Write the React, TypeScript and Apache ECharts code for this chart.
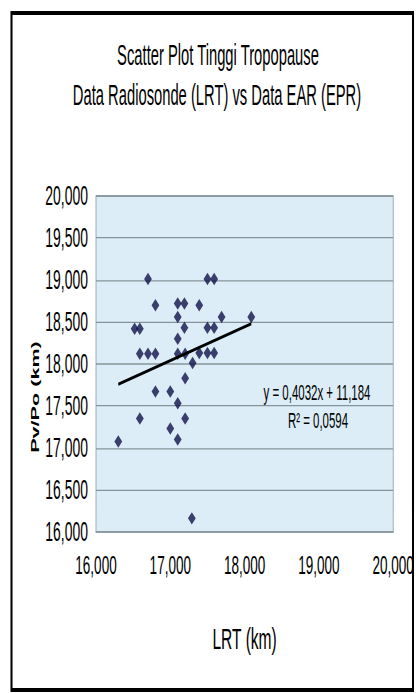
import React, { useEffect, useRef } from 'react';
import * as echarts from 'echarts';

// the reference is an Excel chart drawn in a narrow font and stretched vertically
const SX = 0.82;
const SY = 1.6;
const W = 418 / SX;
const H = 693 / SY;
const px = (x: number) => x / SX;
const py = (y: number) => y / SY;

const titleLines = ['Scatter Plot Tinggi Tropopause', 'Data Radiosonde (LRT) vs Data EAR (EPR)'];
const xAxisName = 'LRT (km)';
const yAxisName = 'Pv/Po (km)';
const equationText = 'y = 0,4032x + 11,184';
const r2Text = 'R² = 0,0594';

const xRange = [16, 20];
const xStep = 1;
const yRange = [16, 20];
const yStep = 0.5;

// LRT (km)
const lrtValues = [
  16.70, 17.50, 17.59,
  16.80, 17.10, 17.19, 17.39,
  16.52, 16.59, 17.10, 17.19, 17.50, 17.59, 17.69, 18.09,
  17.10,
  16.59, 16.70, 16.80, 17.10, 17.20, 17.39, 17.50, 17.59,
  17.30, 17.20, 16.80, 17.00, 17.10, 16.59, 17.20, 17.00, 17.10, 16.30, 17.29,
];
// Pv/Po (km)
const eprValues = [
  19.01, 19.01, 19.01,
  18.70, 18.72, 18.72, 18.70,
  18.42, 18.42, 18.56, 18.43, 18.43, 18.43, 18.56, 18.56,
  18.30,
  18.12, 18.12, 18.12, 18.12, 18.12, 18.13, 18.13, 18.13,
  18.01, 17.83, 17.67, 17.67, 17.53, 17.35, 17.35, 17.23, 17.10, 17.075, 16.16,
];

const trendX = [16.30, 18.09];
const trendY = [17.757, 18.478];

const FONT = '"Liberation Sans", Arial, sans-serif';
const fmt = (v: number) => v.toFixed(3).replace('.', ',');

export default function App() {
  const ref = useRef<HTMLDivElement>(null);
  useEffect(() => {
    document.body.style.margin = '0';
    const chart = echarts.init(ref.current!, null, { renderer: 'svg' });
    const points = lrtValues.map((x, i) => [x, eprValues[i]]);
    const trend = trendX.map((x, i) => [x, trendY[i]]);
    chart.setOption({
      animation: false,
      backgroundColor: '#ffffff',
      grid: {
        left: px(96),
        right: px(418 - 393),
        top: py(196),
        bottom: H - py(532),
        show: true,
        backgroundColor: '#dcedf7',
        borderColor: '#8f9ca6',
        borderWidth: 1,
      },
      xAxis: {
        type: 'value',
        min: xRange[0],
        max: xRange[1],
        interval: xStep,
        axisLine: { show: true, onZero: false, lineStyle: { color: '#8f9ca6' } },
        axisTick: { show: false },
        splitLine: { show: false },
        axisLabel: { margin: 12, formatter: fmt, fontFamily: FONT, fontSize: 16.5, color: '#000' },
        name: xAxisName,
        nameLocation: 'middle',
        nameGap: 57,
        nameTextStyle: { fontFamily: FONT, fontSize: 19, color: '#000' },
      },
      yAxis: {
        type: 'value',
        min: yRange[0],
        max: yRange[1],
        interval: yStep,
        axisLine: { show: false },
        axisTick: { show: false },
        splitLine: { show: true, lineStyle: { color: '#87939b', width: 0.8 } },
        axisLabel: { margin: px(8), formatter: fmt, fontFamily: FONT, fontSize: 17, color: '#000' },
      },
      series: [
        {
          type: 'scatter',
          data: points,
          symbol: 'diamond',
          symbolSize: [9.5, 7.8],
          itemStyle: { color: '#11114a' },
          z: 3,
        },
        {
          type: 'line',
          data: trend,
          symbol: 'none',
          lineStyle: { color: '#000', width: 2 },
          z: 4,
        },
      ],
      graphic: [
        {
          type: 'rect',
          shape: { x: px(11.5), y: py(13), width: px(401.5), height: py(690 - 13) },
          style: { fill: 'none', stroke: '#000', lineWidth: 2.5 },
          silent: true,
        },
        {
          type: 'text', x: px(218), y: py(55),
          style: { text: titleLines[0], font: `18px ${FONT}`, fill: '#000', textAlign: 'center', textVerticalAlign: 'middle' },
        },
        {
          type: 'text', x: px(217), y: py(95),
          style: { text: titleLines[1], font: `18px ${FONT}`, fill: '#000', textAlign: 'center', textVerticalAlign: 'middle' },
        },
        {
          type: 'text', x: px(35), y: py(397), rotation: Math.PI / 2,
          style: { text: yAxisName, font: `bold 13.5px ${FONT}`, fill: '#000', textAlign: 'center', textVerticalAlign: 'middle' },
        },
        {
          type: 'text', x: px(317), y: py(392), z: 10,
          style: { text: equationText, font: `14px ${FONT}`, fill: '#000', textAlign: 'center', textVerticalAlign: 'middle' },
        },
        {
          type: 'text', x: px(318), y: py(420), z: 10,
          style: { text: r2Text, font: `14px ${FONT}`, fill: '#000', textAlign: 'center', textVerticalAlign: 'middle' },
        },
      ],
    });
    return () => chart.dispose();
  }, []);
  return (
    <div
      style={{
        position: 'fixed',
        left: 0,
        top: 0,
        width: 418,
        height: 693,
        overflow: 'hidden',
        background: '#fff',
      }}
    >
      <div
        ref={ref}
        style={{ width: W, height: H, transform: `scale(${SX}, ${SY})`, transformOrigin: '0 0' }}
      />
    </div>
  );
}
